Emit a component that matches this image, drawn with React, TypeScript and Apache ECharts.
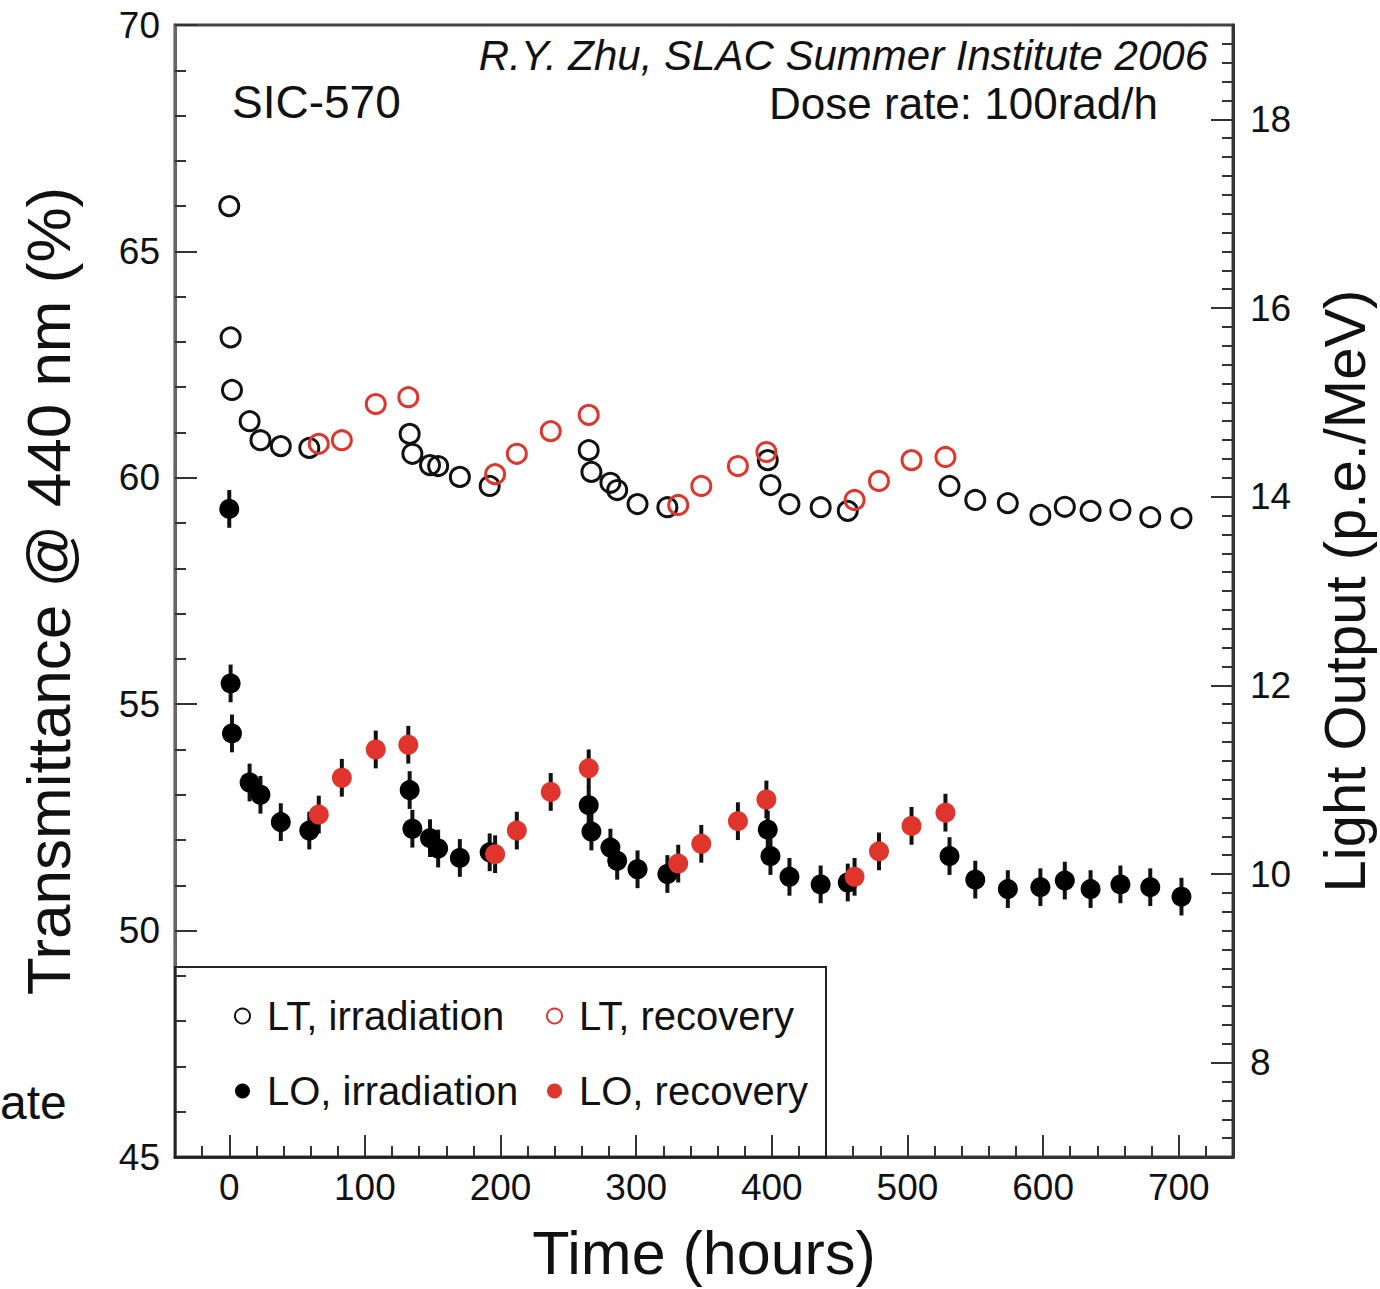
import React, { useEffect, useRef } from "react";
import * as echarts from "echarts";

// Irradiation phases (open circles: transmittance, filled: light output)
const T_IRR = [0, 1, 2, 15, 23, 38, 59, 133, 135, 148, 154, 170, 192, 265, 267, 281, 286, 301, 323, 397, 399, 413, 436, 456, 531, 550, 574, 598, 616, 635, 657, 679, 702];
const LT_IRR = [66.0, 63.1, 61.94, 61.25, 60.83, 60.7, 60.66, 60.97, 60.53, 60.28, 60.26, 60.02, 59.82, 60.61, 60.13, 59.89, 59.73, 59.42, 59.35, 60.39, 59.84, 59.42, 59.35, 59.27, 59.82, 59.51, 59.44, 59.18, 59.36, 59.27, 59.29, 59.13, 59.11];
const LO_IRR = [13.87, 12.02, 11.49, 10.97, 10.84, 10.55, 10.46, 10.89, 10.48, 10.38, 10.27, 10.17, 10.23, 10.73, 10.45, 10.28, 10.14, 10.05, 10.0, 10.47, 10.19, 9.97, 9.89, 9.91, 10.19, 9.94, 9.84, 9.86, 9.93, 9.84, 9.89, 9.86, 9.76];

// Recovery phases
const T_REC = [66, 83, 108, 132, 196, 212, 237, 265, 331, 348, 375, 396, 461, 479, 503, 528];
const LT_REC = [60.75, 60.83, 61.63, 61.78, 60.08, 60.53, 61.03, 61.39, 59.4, 59.82, 60.26, 60.57, 59.51, 59.93, 60.39, 60.46];
const LO_REC = [10.63, 11.02, 11.32, 11.37, 10.21, 10.46, 10.87, 11.12, 10.11, 10.32, 10.56, 10.79, 9.97, 10.24, 10.51, 10.65];

// Light output uncertainty (p.e./MeV)
const LO_ERR = 0.2;

// Axis ranges and ticks
const X_MIN = -40;
const X_MAX = 740;
const X_MAJOR = [0, 100, 200, 300, 400, 500, 600, 700];
const LT_MIN = 45;
const LT_MAX = 70;
const LO_MIN = 7;
const LO_MAX = 19;
const LO_MAJOR = [8, 10, 12, 14, 16, 18];

const X_MINOR: number[] = [];
for (let v = -20; v <= 720; v += 20) if (v % 100 !== 0) X_MINOR.push(v);
const LO_MINOR: number[] = [];
for (let i = 36; i <= 94; i++) if (i % 10 !== 0) LO_MINOR.push(Math.round(i * 2) / 10);

const FONT = "'Liberation Sans', Arial, Helvetica, sans-serif";
const RED = "#e0352c";
const INK = "#111";
const AXIS = "#333";

const pairs = (xs: number[], ys: number[]) => xs.map((x, i) => [x, ys[i]]);

const errorBars = (name: string, xs: number[], ys: number[]) => ({
  type: "custom",
  name,
  xAxisIndex: 0,
  yAxisIndex: 1,
  z: 2,
  silent: true,
  encode: { x: 0, y: 1 },
  data: pairs(xs, ys),
  renderItem: (_params: any, api: any) => {
    const x = api.value(0);
    const y = api.value(1);
    const lo = api.coord([x, y - LO_ERR]);
    const hi = api.coord([x, y + LO_ERR]);
    return {
      type: "line",
      shape: { x1: lo[0], y1: lo[1], x2: hi[0], y2: hi[1] },
      style: { stroke: INK, lineWidth: 4 },
    };
  },
});

export default function App() {
  const ref = useRef<HTMLDivElement>(null);

  useEffect(() => {
    if (!ref.current) return;
    const chart = echarts.init(ref.current, undefined, { renderer: "svg" });

    const tickLine = { color: AXIS, width: 2 };
    const legendText = { fontSize: 40, color: INK, fontFamily: FONT, padding: [0, 0, 0, 12] };
    const legendBase = {
      orient: "vertical",
      top: 996,
      padding: 0,
      itemWidth: 15,
      itemHeight: 15,
      itemGap: 35,
      selectedMode: false,
      icon: "circle",
      itemStyle: { borderWidth: 2 },
      textStyle: legendText,
    };

    chart.setOption({
      animation: false,
      backgroundColor: "#ffffff",
      grid: {
        left: 175,
        right: 147,
        top: 25,
        bottom: 132,
        show: true,
        borderColor: "#444",
        borderWidth: 3,
        containLabel: false,
        outerBoundsMode: "none",
      },
      legend: [
        { ...legendBase, left: 234, data: ["LT, irradiation", "LO, irradiation"] },
        { ...legendBase, left: 546, data: ["LT, recovery", "LO, recovery"] },
      ],
      xAxis: [
        {
          type: "value",
          min: X_MIN,
          max: X_MAX,
          position: "bottom",
          name: "Time (hours)",
          nameLocation: "middle",
          nameGap: 65,
          nameTextStyle: { fontSize: 61, color: INK, fontFamily: FONT },
          axisLine: { show: true, onZero: false, lineStyle: { color: AXIS, width: 3 } },
          axisTick: { show: true, inside: true, length: 22, customValues: X_MAJOR, lineStyle: tickLine },
          axisLabel: { show: true, customValues: X_MAJOR, margin: 12, fontSize: 37, color: INK, fontFamily: FONT },
          splitLine: { show: false },
        },
        {
          type: "value",
          min: X_MIN,
          max: X_MAX,
          position: "bottom",
          axisLine: { show: false, onZero: false },
          axisTick: { show: true, inside: true, length: 11, customValues: X_MINOR, lineStyle: tickLine },
          axisLabel: { show: false },
          splitLine: { show: false },
        },
      ],
      yAxis: [
        {
          type: "value",
          min: LT_MIN,
          max: LT_MAX,
          interval: 5,
          position: "left",
          name: "Transmittance @ 440 nm (%)",
          nameLocation: "middle",
          nameRotate: 90,
          nameGap: 96,
          nameTextStyle: { fontSize: 62, color: INK, fontFamily: FONT },
          axisLine: { show: true, onZero: false, lineStyle: { color: "#666", width: 3 } },
          axisTick: { show: true, inside: true, length: 22, lineStyle: tickLine },
          minorTick: { show: true, splitNumber: 5, length: 11, lineStyle: tickLine },
          axisLabel: { show: true, margin: 15, fontSize: 37, color: INK, fontFamily: FONT },
          splitLine: { show: false },
          minorSplitLine: { show: false },
        },
        {
          type: "value",
          min: LO_MIN,
          max: LO_MAX,
          position: "right",
          name: "Light Output (p.e./MeV)",
          nameLocation: "middle",
          nameRotate: 90,
          nameGap: 82,
          nameTextStyle: { fontSize: 58, color: INK, fontFamily: FONT },
          axisLine: { show: true, onZero: false, lineStyle: { color: AXIS, width: 3 } },
          axisTick: { show: true, inside: true, length: 22, customValues: LO_MAJOR, lineStyle: tickLine },
          axisLabel: { show: true, customValues: LO_MAJOR, margin: 17, fontSize: 37, color: INK, fontFamily: FONT },
          splitLine: { show: false },
        },
        {
          type: "value",
          min: LO_MIN,
          max: LO_MAX,
          position: "right",
          axisLine: { show: false, onZero: false },
          axisTick: { show: true, inside: true, length: 11, customValues: LO_MINOR, lineStyle: tickLine },
          axisLabel: { show: false },
          splitLine: { show: false },
        },
      ],
      graphic: [
        {
          type: "rect",
          z: 1,
          silent: true,
          shape: { x: 175, y: 967, width: 651, height: 190 },
          style: { fill: "none", stroke: "#222", lineWidth: 2 },
        },
        {
          type: "text",
          x: 232,
          y: 102,
          style: { text: "SIC-570", fontSize: 46, fontFamily: FONT, fill: INK, align: "left", verticalAlign: "middle" },
        },
        {
          type: "text",
          x: 1158,
          y: 103,
          style: { text: "Dose rate: 100rad/h", fontSize: 44, fontFamily: FONT, fill: INK, align: "right", verticalAlign: "middle" },
        },
        {
          type: "text",
          x: 1208,
          y: 55,
          style: {
            text: "R.Y. Zhu, SLAC Summer Institute 2006",
            fontSize: 42,
            fontStyle: "italic",
            fontFamily: FONT,
            fill: INK,
            align: "right",
            verticalAlign: "middle",
          },
        },
        {
          type: "text",
          x: 0,
          y: 1102,
          style: { text: "ate", fontSize: 48, fontFamily: FONT, fill: INK, align: "left", verticalAlign: "middle" },
        },
      ],
      series: [
        errorBars("LO irradiation error", T_IRR, LO_IRR),
        errorBars("LO recovery error", T_REC, LO_REC),
        {
          type: "scatter",
          name: "LT, irradiation",
          xAxisIndex: 0,
          yAxisIndex: 0,
          z: 3,
          symbol: "circle",
          symbolSize: 19,
          itemStyle: { color: "rgba(0,0,0,0)", borderColor: INK, borderWidth: 3, opacity: 1 },
          data: pairs(T_IRR, LT_IRR),
        },
        {
          type: "scatter",
          name: "LT, recovery",
          xAxisIndex: 0,
          yAxisIndex: 0,
          z: 3,
          symbol: "circle",
          symbolSize: 19,
          itemStyle: { color: "rgba(0,0,0,0)", borderColor: RED, borderWidth: 3, opacity: 1 },
          data: pairs(T_REC, LT_REC),
        },
        {
          type: "scatter",
          name: "LO, irradiation",
          xAxisIndex: 0,
          yAxisIndex: 1,
          z: 4,
          symbol: "circle",
          symbolSize: 20,
          itemStyle: { color: "#000", opacity: 1 },
          data: pairs(T_IRR, LO_IRR),
        },
        {
          type: "scatter",
          name: "LO, recovery",
          xAxisIndex: 0,
          yAxisIndex: 1,
          z: 4,
          symbol: "circle",
          symbolSize: 20,
          itemStyle: { color: RED, opacity: 1 },
          data: pairs(T_REC, LO_REC),
        },
      ],
    });

    return () => chart.dispose();
  }, []);

  return (
    <div
      ref={ref}
      style={{ position: "fixed", left: 0, top: 0, width: 1380, height: 1289, background: "#fff" }}
    />
  );
}
